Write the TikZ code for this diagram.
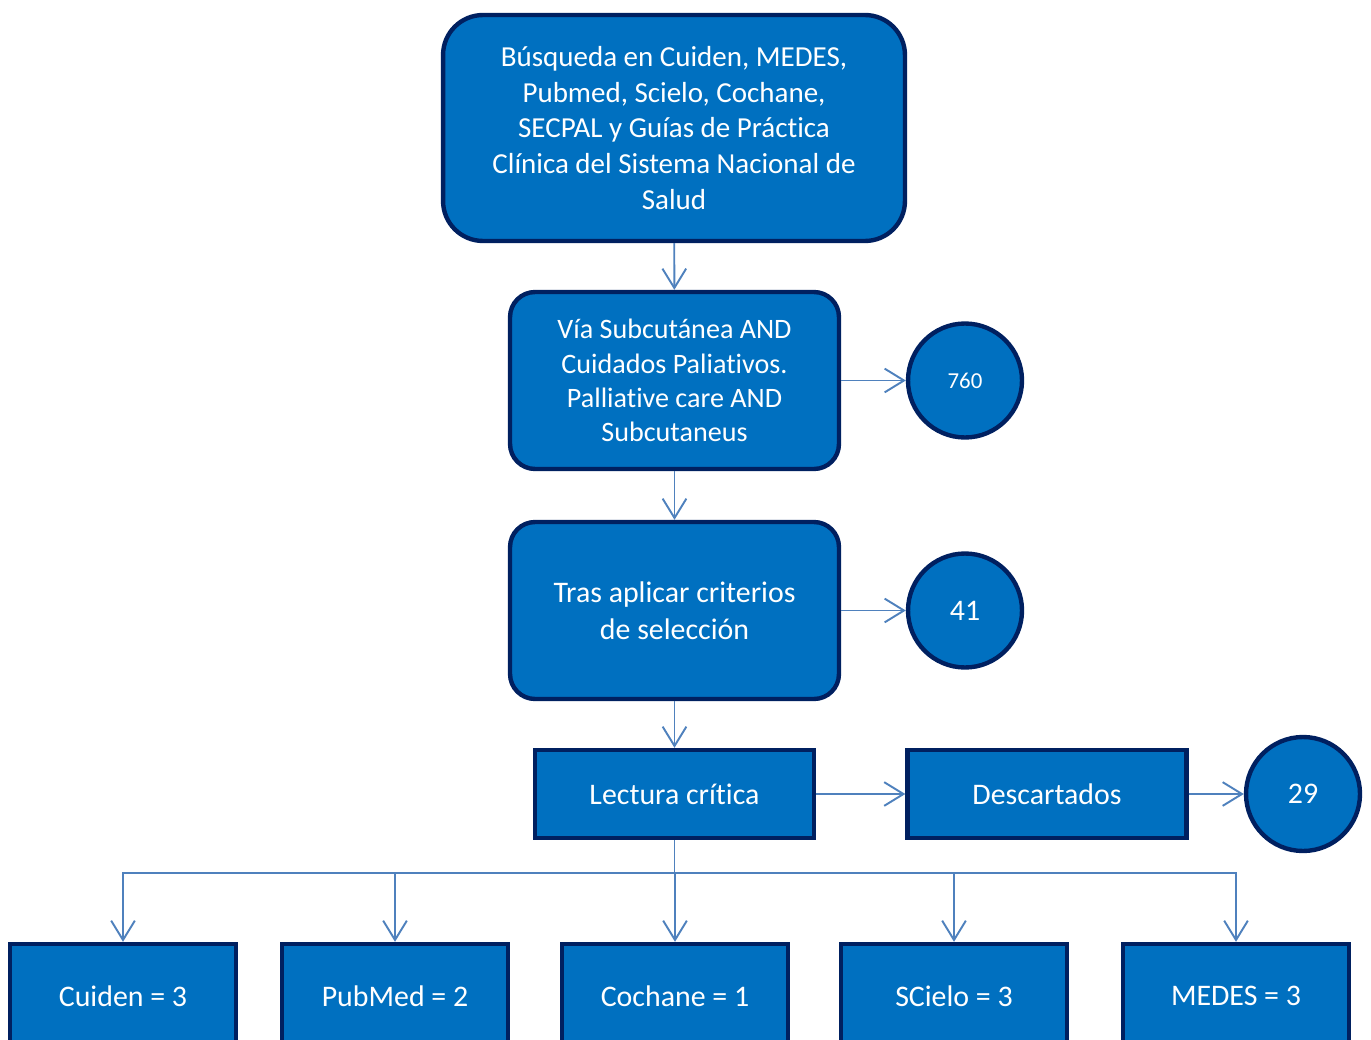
\documentclass[tikz,border=0pt]{standalone}
\usepackage{fontspec}
\setmainfont{Carlito}[RawFeature={-liga;-clig;-calt;-dlig}]
\usetikzlibrary{arrows.meta, positioning, calc}
\definecolor{boxblue}{RGB}{0,112,192}
\definecolor{boxnavy}{RGB}{0,32,96}
\definecolor{linkblue}{RGB}{79,129,189}

\begin{document}
\begin{tikzpicture}[x=0.02cm, y=-0.02cm,
    rbox/.style={draw=boxnavy, fill=boxblue, line width=2.5pt, text=white,
                 align=center, inner sep=0pt, minimum width=6.58cm, minimum height=3.54cm,
                 rounded corners=0.5cm, font=\fontsize{16}{19.5}\selectfont},
    sqbox/.style={draw=boxnavy, fill=boxblue, line width=2.5pt, text=white,
                  align=center, inner sep=0pt, minimum width=5.58cm, minimum height=1.76cm,
                  font=\fontsize{17}{20}\selectfont},
    dbbox/.style={sqbox, minimum width=4.52cm, minimum height=2.08cm},
    cnum/.style={circle, draw=boxnavy, fill=boxblue, line width=2.5pt, text=white,
                 inner sep=0pt, minimum size=2.28cm, font=\fontsize{17}{20}\selectfont},
    arr/.style={-{Straight Barb[length=11pt, width=13.5pt]}, linkblue, line width=1.1pt}
  ]
    \useasboundingbox (0,0) rectangle (1371,1040);
    \begin{scope}
      \clip (0,0) rectangle (1371,1040);

      % search steps
      \node[rbox, minimum width=9.24cm, minimum height=4.52cm, rounded corners=0.8cm,
            font=\fontsize{16.5}{20.4}\selectfont] (search) at (674,128)
            {Búsqueda en Cuiden, MEDES,\\Pubmed, Scielo, Cochane,\\SECPAL y Guías de Práctica\\Clínica del Sistema Nacional de\\Salud};
      \node[rbox] (terms)  at (674.5,380.5) {Vía Subcutánea AND\\Cuidados Paliativos.\\Palliative care AND\\Subcutaneus};
      \node[rbox, font=\fontsize{17}{21}\selectfont] (select) at (674.5,610.5) {Tras aplicar criterios\\de selección};
      \node[sqbox] (read)    at (674.5,794) {Lectura crítica};
      \node[sqbox] (discard) at (1047,794)  {Descartados};

      % counts
      \node[cnum, font=\fontsize{13}{16}\selectfont] (n760) at (965,380.5) {760};
      \node[cnum] (n41) at (965,610.5) {41};
      \node[cnum] (n29) at (1303,794)  {29};

      % databases
      \node[dbbox] (cuiden)  at (123,996)  {Cuiden = 3};
      \node[dbbox] (pubmed)  at (395,996)  {PubMed = 2};
      \node[dbbox] (cochane) at (675,996)  {Cochane = 1};
      \node[dbbox] (scielo)  at (954,996)  {SCielo = 3};
      \node[dbbox] (medes)   at (1236,996) {MEDES = 3};
    \end{scope}

    \coordinate (split) at (674.5,873);

    % Arrows
    \draw[arr] (search) -- (terms);
    \draw[arr] (terms)  -- (select);
    \draw[arr] (select) -- (read);
    \draw[arr] (terms.east)  -- (n760.west);
    \draw[arr] (select.east) -- (n41.west);
    \draw[arr] (read.east)   -- (discard.west);
    \draw[arr] (discard.east) -- (n29.west);
    \draw[linkblue, line width=1.1pt] (read.south) -- (split);
    \draw[arr] (split) -- (split -| cochane.north) -- (cochane.north);
    \draw[arr] (split) -| (cuiden.north);
    \draw[arr] (split) -| (pubmed.north);
    \draw[arr] (split) -| (scielo.north);
    \draw[arr] (split) -| (medes.north);
\end{tikzpicture}
\end{document}
